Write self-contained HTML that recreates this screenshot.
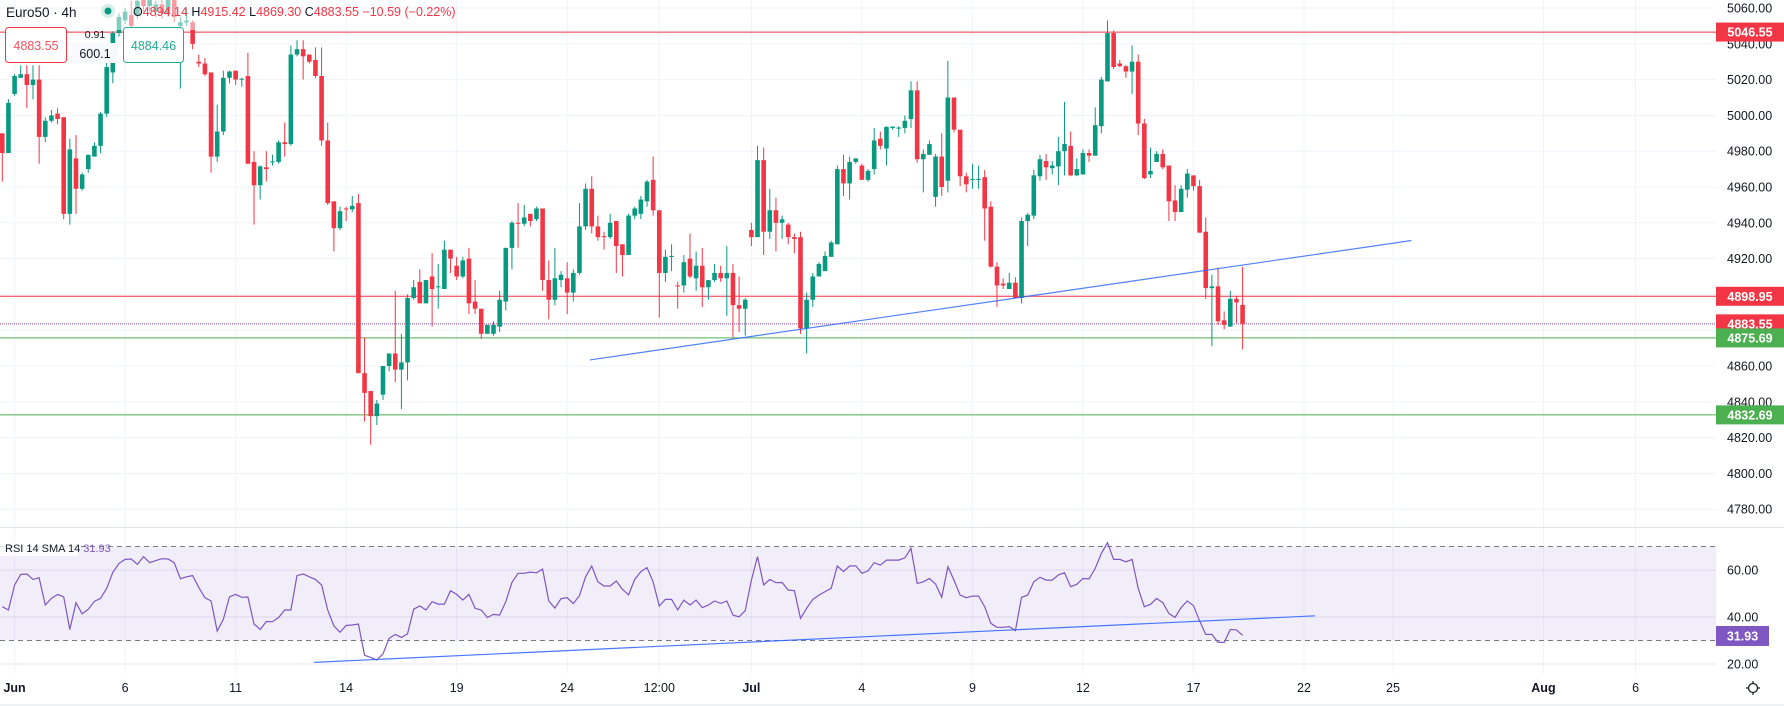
<!DOCTYPE html>
<html><head><meta charset="utf-8">
<style>
html,body{margin:0;padding:0;background:#fff;width:1784px;height:706px;overflow:hidden}
svg{display:block;font-family:"Liberation Sans",sans-serif}
</style></head>
<body>
<svg id="chart" width="1784" height="706" viewBox="0 0 1784 706" xmlns="http://www.w3.org/2000/svg">
  <g id="grid"></g>
  <rect x="0" y="546.5" width="1716" height="94" fill="rgba(126,87,194,0.1)"/>
  <g id="hlines"></g>
  <g id="candles"></g>
  <g id="rsi"></g>
  <g id="trend"></g>
  <rect x="100" y="0" width="95" height="30" fill="#fff" opacity="0.5"/>
  <line x1="0" y1="527.5" x2="1784" y2="527.5" stroke="#e0e3eb" stroke-width="1"/>
  <line x1="0" y1="705" x2="1784" y2="705" stroke="#e0e3eb" stroke-width="1"/>
  <g id="axis"></g>
  <g id="taxis"></g>
  <!-- header legend -->
  <g>
    <text x="6" y="17" font-size="13.5" fill="#131722">Euro50 · 4h</text>
    <circle cx="108" cy="11" r="7" fill="#d7efe9"/>
    <circle cx="108" cy="11" r="3.5" fill="#089981"/>
    <text x="133" y="16" font-size="12.5" fill="#f23645"><tspan fill="#131722">O</tspan>4894.14 <tspan fill="#131722">H</tspan>4915.42 <tspan fill="#131722">L</tspan>4869.30 <tspan fill="#131722">C</tspan>4883.55 −10.59 (−0.22%)</text>
    <rect x="5.5" y="27.5" width="61" height="35" rx="3" fill="#fff" stroke="#f23645"/>
    <text x="36" y="50" font-size="12.5" fill="#f7525f" text-anchor="middle">4883.55</text>
    <text x="95" y="38" font-size="10.5" fill="#131722" text-anchor="middle">0.91</text>
    <rect x="71" y="43" width="47" height="20" rx="2" fill="#f8f9fd"/>
    <text x="95" y="58" font-size="12.5" fill="#131722" text-anchor="middle">600.1</text>
    <rect x="123.5" y="27.5" width="60" height="35" rx="3" fill="#fff" stroke="#22ab94"/>
    <text x="153.5" y="50" font-size="12.5" fill="#22ab94" text-anchor="middle">4884.46</text>
  </g>
  <g>
    <rect x="0" y="540" width="78" height="16" fill="#fff" opacity="0.8"/>
    <text x="5" y="552" font-size="11" fill="#131722">RSI 14 SMA 14 <tspan fill="#7e57c2">31.93</tspan></text>
  </g>
  <g transform="translate(1753,688)" stroke="#131722" fill="none" stroke-width="1.2">
    <circle r="4.5"/>
    <line x1="0" y1="-7" x2="0" y2="-4.5"/><line x1="0" y1="7" x2="0" y2="4.5"/>
    <line x1="-7" y1="0" x2="-4.5" y2="0"/><line x1="7" y1="0" x2="4.5" y2="0"/>
  </g>
</svg>
<script>
const NS="http://www.w3.org/2000/svg";
const opens=[4990,4979,5012,5021,5023,5017,5020,4988,4997,5001,4999,4945,4976,4959,4970,4977,4983,5001,5024,5046,5053,5056,5056,5066,5061,5058,5062,5057,5066,5050,5052,5052,5030,5029,5024,4977,4991,5021,5025,5020,5022,4974,4961,4971,4974,4974,4985,4984,5034,5037,5034,5031,5022,4986,4952,4937,4948,4947.5,4951,4856,4846,4832,4844,4860,4867,4858,4862,4898,4907,4895,4910,4904,4903,4925,4916,4910,4920,4896,4892,4878,4878,4882,4896,4926,4940,4939.5,4945,4942,4948,4908,4897,4908,4909,4901,4912,4938,4959,4938,4932.5,4932,4941,4928,4922,4944,4945,4952,4964,4947,4912,4921,4905,4905,4920,4909,4916,4904,4908,4912,4909,4912,4894,4892,4936,4932,4975,4935,4947,4940,4939,4932,4932,4881,4897,4910,4913,4921,4928,4970,4962,4974,4972,4964,4970,4987,4981.5,4993,4993,4993,4998,5014,4975.5,4978,4954.5,4977,4963.5,5010,4992,4966,4964,4964,4965.5,4949,4915.5,4906,4903,4906.5,4898,4941,4944,4966,4974.5,4970.5,4971.5,4980,4983,4966.5,4967,4979,4977.5,4994,5019,5046,5029,5027.5,5024.5,5030,4995.5,4967,4974,4978.5,4972,4952.5,4946,4958.5,4966.5,4960.5,4935,4903.5,4904.5,4885.5,4882,4897.5,4894.14];
const highs=[4990,5009,5023,5028,5028,5028,5028,4999,5003,5004,4999,4987,4989,4968,4978,4985,5002,5030,5047,5057,5060,5064,5068,5070,5070,5064,5065,5068,5070,5055,5060,5053,5034,5032,5024,5006,5025,5025,5025,5021,5035,4980,4972,4980,4978,4986,4996,5039,5042,5042,5034,5038,5038,4996,4952,4949,4949,4955,4956,4876,4846,4841,4860,4867,4902,4878,4900,4908,4914,4908,4923,4917,4930,4925,4921,4921,4926,4908,4892,4883,4885,4902,4926,4941,4951,4950,4945,4949,4948,4919,4926,4913,4918,4914,4951,4962,4966,4944,4935,4945,4941,4928,4945,4949,4955,4964,4977,4947,4925,4928,4907,4922,4934,4924,4926,4908,4917,4916,4927,4917,4910,4898,4940,4983,4982,4959,4954,4944,4940,4934,4935,4901,4912,4918,4924,4930,4972,4978,4977,4976,4973,4970,4993,4991,4994,4994,4994,5000,5019,5019,4981,4986,4978.5,4990,5030.5,5010,4992,4968,4973,4972,4969.5,4952,4918,4909,4912,4909.5,4943,4945.5,4969.5,4978,4978.5,4974.5,4988,5007.5,4991,4976,4981,4981,5004.5,5021.5,5053,5047.5,5031,5028,5039,5034,4998,4982,4980,4981,4972,4961,4961,4970,4966.5,4964,4943,4911,4915,4890.5,4902,4899,4915.42];
const lows=[4963,4979,5011,5021,5004,5009,4973,4985,4996,4995,4942,4939,4945,4958,4968,4977,4979,4999,5018,5044,5051,5048,5054,5058,5058,5055,5054,5055,5052,5015,5050,5037,5027,5022,4968,4974,4989,5018,5017,5016,4973,4939,4953,4963,4972,4973,4977,4983,5033,5020,5029,5021,4983,4950,4924,4936,4941,4946,4856,4829,4816,4827,4841,4857,4851,4836,4852,4897,4895,4895,4882,4892,4903,4912,4908,4909,4889,4889,4875,4878,4877,4879,4891,4914,4926,4938,4938,4941,4902,4886,4894,4904,4889,4896,4911,4936,4934,4930,4925,4931,4912,4910,4922,4942,4942,4949,4944,4887,4907,4913,4892,4901,4909,4902,4893,4897,4907,4907,4888,4876,4879,4877,4927,4932,4922,4931,4924,4931,4928,4923,4878,4867,4893,4910,4913,4921,4928,4955,4953,4973,4964,4963,4967,4981,4972,4992,4988,4990,4993,4973.5,4957,4978,4949,4955,4957,4990.5,4960.5,4957,4959,4959,4930,4915,4893,4903,4903,4898,4895,4927,4942,4963.5,4964,4967,4961,4966.5,4966,4966,4967,4974,4977.5,4990,5019,5026,5027,5021,5012,4989,4964.5,4965,4974,4970,4941,4941,4946,4954,4958,4934.5,4897.5,4871,4883,4880.5,4882,4884,4869.3];
const closes=[4979,5007,5022,5023,5017,5020,4988,4997,5000,4998,4945,4981,4959,4967,4978,4983,5001,5027,5046,5055,5058,5050,5064,5061,5066,5062,5057,5066,5055,5052,5053,5040,5029,5023,4977,4991,5021,5024.5,5020,5020.5,4973,4961,4971.5,4970,4974.3,4985,4984,5034,5037,5033,5030,5022,4986,4951,4937,4946.5,4947.5,4949.5,4856,4845,4832,4839,4860,4867,4858,4862,4898,4904,4895,4908,4903,4904.5,4925,4920,4910,4919,4895,4892,4878,4883,4883,4897,4926,4940,4939.5,4943,4941,4948,4908,4897,4909,4911,4901,4912,4938,4959,4938,4932,4932,4940,4927,4922,4944,4948,4953,4963,4947,4912,4921,4921.5,4904.6,4918,4910,4916,4904,4908,4912,4909,4912,4894,4892,4897,4932,4975,4935,4947,4940,4942,4932,4931,4881,4897,4910,4917,4921.5,4929,4970,4962,4974,4976,4964,4969,4986,4983,4993.5,4993.7,4993.2,4997,5014,4975.5,4978.5,4984,4977,4960,5010,4992,4966,4961.5,4964.5,4964.5,4948,4915.5,4905,4905,4906.5,4898,4941,4944.5,4966.5,4975.5,4971,4972,4980,4984,4966.5,4970,4979,4977.5,4994.5,5020,5046,5027,5027.5,5024.5,5030,4995.5,4965,4969,4978.5,4971,4952,4946,4959,4967.5,4960.5,4934.5,4903.5,4904.5,4885,4883,4897.5,4895.5,4883.55];
const rsiValues=[44.4,43.0,53.6,58.1,58.3,56.0,56.7,45.1,47.9,49.6,48.6,34.7,46.1,41.3,43.3,46.7,47.9,52.2,59.0,62.8,64.5,64.7,62.4,65.7,63.1,64.0,64.8,64.7,63.1,56.3,57.1,57.6,52.6,48.2,46.8,34.0,39.0,48.6,49.6,48.4,48.5,37.0,34.7,38.1,38.0,39.8,43.0,43.0,57.6,58.3,57.1,56.0,53.6,43.0,36.2,33.5,36.4,36.6,37.0,23.7,22.8,21.7,24.3,30.9,32.6,31.3,32.8,43.3,44.7,43.0,46.5,45.5,45.5,51.2,49.6,47.2,49.6,43.7,43.0,39.8,41.1,40.8,46.5,54.7,58.6,58.6,59.1,58.8,60.4,46.8,43.8,47.8,48.2,45.7,49.1,57.1,61.7,55.0,53.2,53.2,55.3,51.8,49.4,56.0,
59.3,61.0,55.0,44.7,47.5,47.5,43.0,47.2,45.1,47.2,44.0,45.1,46.8,45.8,46.8,40.8,40.1,42.7,55.7,65.7,53.6,56.0,54.6,54.7,51.5,51.2,39.4,43.7,47.5,49.3,50.8,52.2,61.7,59.3,61.7,61.8,58.6,59.6,63.1,62.1,64.2,64.2,64.2,65.2,69.2,54.3,55.0,56.4,54.0,48.4,61.4,55.7,49.3,48.2,48.9,48.9,44.4,37.3,35.6,35.6,35.9,34.2,48.4,49.3,55.0,56.9,55.7,55.7,57.9,58.8,52.9,53.9,56.4,56.2,60.7,67.1,71.6,64.5,64.5,63.5,64.5,52.2,44.4,45.4,47.9,46.1,41.5,39.8,44.1,46.8,44.8,38.4,32.6,32.6,29.2,29.2,34.7,34.5,32.2];
const priceTicks=[5060,5040,5020,5000,4980,4960,4940,4920,4900,4880,4860,4840,4820,4800,4780];
const priceTickLabels=["5060.00","5040.00","5020.00","5000.00","4980.00","4960.00","4940.00","4920.00","","","4860.00","4840.00","4820.00","4800.00","4780.00"];
const rsiTicks=[60,40,20];
const rsiTickLabels=["60.00","40.00","20.00"];
const timeLabels=["Jun","6","11","14","19","24","12:00","Jul","4","9","12","17","22","25","Aug","6"];
const timeIdx=[2,20,38,56,74,92,107,122,140,158,176,194,212,226.5,251,266];
const boldLabels=["Jun","Jul","Aug"];
const levelPrices=[5046.55,4898.95,4875.69,4832.69];
const levelColors=["#f23645","#f23645","#4caf50","#4caf50"];
const lastPrice=4883.55;
const trendPrices=[4863.4,4930.1];
const trendIdx=[95.7,229.5];
const rsiTrendValues=[20.7,40.5];
const rsiTrendIdx=[50.8,213.8];
const rsiLast=31.93;

const yP=p=>8+(5060-p)*1.79;
const yR=v=>570+(60-v)*2.35;
const xI=i=>2.3+i*6.14;
function mk(tag,attrs,parent){const e=document.createElementNS(NS,tag);for(const k in attrs)e.setAttribute(k,attrs[k]);parent.appendChild(e);return e;}

const grid=document.getElementById('grid');
timeIdx.forEach((ix,k)=>{
  const l=mk('line',{x1:xI(ix),x2:xI(ix),y1:0,y2:673,stroke:'#f0f3fa','stroke-width':1},grid);
  
  
});
priceTicks.forEach(p=>{
  const l=mk('line',{x1:0,x2:1716,y1:yP(p),y2:yP(p),stroke:'#f0f3fa','stroke-width':1},grid);
  
  
});
rsiTicks.forEach(v=>{
  const l=mk('line',{x1:0,x2:1716,y1:yR(v),y2:yR(v),stroke:'#e8e6f0','stroke-width':1},grid);
  
  
});

const hl=document.getElementById('hlines');
levelPrices.forEach((p,k)=>{
  const l=mk('line',{x1:0,x2:1716,y1:yP(p),y2:yP(p),stroke:levelColors[k],'stroke-width':1},hl);
  
  
});
const d1=mk('line',{x1:0,x2:1716,y1:yP(lastPrice),y2:yP(lastPrice),stroke:'#f23645','stroke-width':1,'stroke-dasharray':'1 3'},hl);


const d2=mk('line',{x1:2,x2:1716,y1:yP(lastPrice),y2:yP(lastPrice),stroke:'#2962ff','stroke-width':1,'stroke-dasharray':'1 3'},hl);



const cg=document.getElementById('candles');
for(let i=0;i<opens.length;i++){
  const o=opens[i],c=closes[i],h=highs[i],lo=lows[i];
  const col=c>=o?'#089981':'#f23645';
  const x=xI(i);
  const g=mk('g',{},cg);
  
  
  mk('line',{x1:x,x2:x,y1:yP(h),y2:yP(lo),stroke:col,'stroke-width':1},g);
  const top=Math.min(yP(o),yP(c)),bh=Math.max(1,Math.abs(yP(o)-yP(c)));
  mk('rect',{x:x-2.3,y:top,width:4.6,height:bh,fill:col},g);
}

const rg=document.getElementById('rsi');
const dash70=mk('line',{x1:0,x2:1716,y1:yR(70),y2:yR(70),stroke:'#787b86','stroke-width':1,'stroke-dasharray':'5 4'},rg);


const dash30=mk('line',{x1:0,x2:1716,y1:yR(30),y2:yR(30),stroke:'#787b86','stroke-width':1,'stroke-dasharray':'5 4'},rg);


const pts=rsiValues.map((v,i)=>xI(i).toFixed(1)+','+yR(v).toFixed(1)).join(' ');
const rl=mk('polyline',{points:pts,fill:'none',stroke:'#7e57c2','stroke-width':1.2},rg);



const tg=document.getElementById('trend');
const t1=mk('line',{x1:xI(trendIdx[0]),y1:yP(trendPrices[0]),x2:xI(trendIdx[1]),y2:yP(trendPrices[1]),stroke:'#2962ff','stroke-width':1.2,opacity:0.8},tg);


const t2=mk('line',{x1:xI(rsiTrendIdx[0]),y1:yR(rsiTrendValues[0]),x2:xI(rsiTrendIdx[1]),y2:yR(rsiTrendValues[1]),stroke:'#2962ff','stroke-width':1.2,opacity:0.85},tg);



const ax=document.getElementById('axis');
priceTicks.forEach((p,k)=>{
  if(!priceTickLabels[k])return;
  const t=mk('text',{x:1727,y:yP(p)+4.5,'font-size':12.5,fill:'#131722'},ax);
  t.textContent=priceTickLabels[k];
  
  
});
rsiTicks.forEach((v,k)=>{
  const t=mk('text',{x:1727,y:yR(v)+4.5,'font-size':12.5,fill:'#131722'},ax);
  t.textContent=rsiTickLabels[k];
  
  
});
const tags=[[5046.55,'#f23645'],[4898.95,'#f23645'],[4883.55,'#f23645'],[4875.69,'#4caf50'],[4832.69,'#4caf50']];
tags.forEach(([p,col])=>{
  const g=mk('g',{},ax);
  
  
  mk('rect',{x:1716,y:yP(p)-9.5,width:68,height:19,fill:col},g);
  const t=mk('text',{x:1750,y:yP(p)+4.5,'font-size':12.5,'font-weight':'bold',fill:'#fff','text-anchor':'middle'},g);
  t.textContent=p.toFixed(2);
});
const rt=mk('g',{},ax);


mk('rect',{x:1716,y:yR(rsiLast)-10,width:53,height:20,fill:'#7e57c2'},rt);
const rtt=mk('text',{x:1742.5,y:yR(rsiLast)+4.5,'font-size':12.5,'font-weight':'bold',fill:'#fff','text-anchor':'middle'},rt);
rtt.textContent=rsiLast.toFixed(2);

const ta=document.getElementById('taxis');
timeLabels.forEach((s,k)=>{
  const t=mk('text',{x:xI(timeIdx[k]),y:692,'font-size':12.5,fill:'#131722','text-anchor':'middle','font-weight':boldLabels.includes(s)?'bold':'normal'},ta);
  t.textContent=s;
  
  
});
</script>
</body></html>
